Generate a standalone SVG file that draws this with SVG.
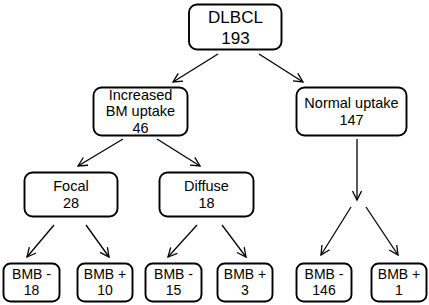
<svg xmlns="http://www.w3.org/2000/svg" width="429" height="305" viewBox="0 0 429 305">
<defs>
<marker id="ah" markerWidth="12" markerHeight="12" refX="10" refY="5" orient="auto" markerUnits="userSpaceOnUse">
<path d="M1,0.5 L10,5 L1,9.5" fill="none" stroke="#000" stroke-width="1.3"/>
</marker>
<style>
rect{fill:#fff;stroke:#000;stroke-width:1.9}
text{font-family:"Liberation Sans",Arial,sans-serif;fill:#000;text-anchor:middle}
.t{font-size:17px}
.m{font-size:14.5px}
.s{font-size:14px}
#edges line{stroke:#000;stroke-width:1.3;marker-end:url(#ah)}
</style>
</defs>
<rect x="0" y="0" width="429" height="305" style="fill:#fff;stroke:none"/>
<g id="edges">
<line x1="218" y1="54" x2="173" y2="82"/>
<line x1="259" y1="54" x2="303" y2="82"/>
<line x1="123" y1="139" x2="78" y2="166"/>
<line x1="157" y1="139" x2="200" y2="166"/>
<line x1="357" y1="139" x2="357" y2="200"/>
<line x1="351" y1="207" x2="321" y2="255"/>
<line x1="366" y1="207" x2="398" y2="255"/>
<line x1="54" y1="225" x2="27" y2="257"/>
<line x1="86" y1="225" x2="109" y2="257"/>
<line x1="197" y1="225" x2="168" y2="257"/>
<line x1="222" y1="225" x2="246" y2="257"/>
</g>
<g id="dlbcl"><rect x="189" y="4.5" width="92.5" height="45" rx="8"/><text class="t" x="235.5" y="23">DLBCL</text><text class="t" x="235.5" y="44">193</text></g>
<g id="increased"><rect x="93.5" y="87.5" width="94" height="48" rx="8"/><text class="m" x="140.5" y="100">Increased</text><text class="m" x="140.5" y="116">BM uptake</text><text class="m" x="140.5" y="133">46</text></g>
<g id="normal"><rect x="296.5" y="87.5" width="110" height="48" rx="8"/><text class="m" x="351.5" y="108">Normal uptake</text><text class="m" x="351.5" y="125">147</text></g>
<g id="focal"><rect x="24.5" y="172.5" width="93" height="44" rx="8"/><text class="m" x="71" y="191">Focal</text><text class="m" x="71" y="208">28</text></g>
<g id="diffuse"><rect x="159.5" y="172.5" width="94" height="44" rx="8"/><text class="m" x="206.5" y="191">Diffuse</text><text class="m" x="206.5" y="208">18</text></g>
<g id="b1"><rect x="3.5" y="263.5" width="56" height="38" rx="7"/><text class="s" x="31.5" y="279">BMB -</text><text class="s" x="31.5" y="295">18</text></g>
<g id="b2"><rect x="77.5" y="263.5" width="55" height="38" rx="7"/><text class="s" x="105" y="279">BMB +</text><text class="s" x="105" y="295">10</text></g>
<g id="b3"><rect x="145.5" y="263.5" width="56" height="38" rx="7"/><text class="s" x="173.5" y="279">BMB -</text><text class="s" x="173.5" y="295">15</text></g>
<g id="b4"><rect x="217.5" y="263.5" width="55" height="38" rx="7"/><text class="s" x="245" y="279">BMB +</text><text class="s" x="245" y="295">3</text></g>
<g id="b5"><rect x="296.5" y="263.5" width="55" height="38" rx="7"/><text class="s" x="324" y="279">BMB -</text><text class="s" x="324" y="295">146</text></g>
<g id="b6"><rect x="371.5" y="263.5" width="55" height="38" rx="7"/><text class="s" x="399" y="279">BMB +</text><text class="s" x="399" y="295">1</text></g>
</svg>
